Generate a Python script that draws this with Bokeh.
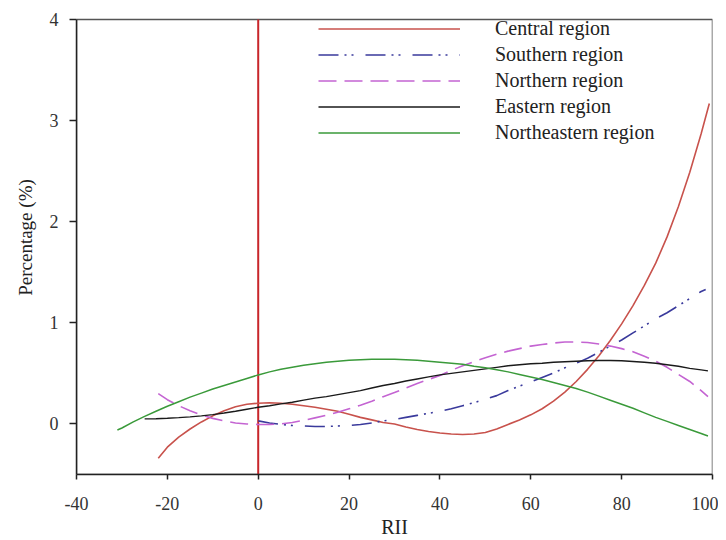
from bokeh.plotting import figure
from bokeh.models import Range1d, FixedTicker, Legend, LegendItem
from bokeh.embed import file_html
from bokeh.resources import INLINE

# ---------------- data ----------------
central_x = [-22, -20, -17.5, -15, -12.5, -10, -7.5, -5, -2.5, 0, 2.5, 5, 7.5, 10, 12.5, 15, 17.5, 20,
             22.5, 25, 27.5, 30, 32.5, 35, 37.5, 40, 42.5, 45, 47.5, 50, 52.5, 55, 57.5, 60, 62.5, 65,
             67.5, 70, 72.5, 75, 77.5, 80, 82.5, 85, 87.5, 90, 92.5, 95, 97.5, 99.3]
central_y = [-0.34, -0.23, -0.13, -0.05, 0.02, 0.08, 0.13, 0.17, 0.195, 0.205, 0.21, 0.205, 0.195, 0.18,
             0.165, 0.145, 0.125, 0.095, 0.065, 0.04, 0.015, 0.0, -0.03, -0.055, -0.075, -0.09, -0.10,
             -0.105, -0.10, -0.085, -0.05, -0.005, 0.04, 0.09, 0.15, 0.225, 0.315, 0.42, 0.54, 0.675,
             0.825, 0.99, 1.17, 1.37, 1.59, 1.85, 2.15, 2.49, 2.87, 3.17]

southern_x = [0, 2.5, 5, 7.5, 10, 12.5, 15, 17.5, 20, 22.5, 25, 27.5, 30, 32.5, 35, 37.5, 40, 42.5, 45,
              47.5, 50, 52.5, 55, 57.5, 60, 62.5, 65, 67.5, 70, 72.5, 75, 77.5, 80, 82.5, 85, 87.5, 90,
              92.5, 95, 97.5, 98.5]
southern_y = [0.03, 0.01, -0.005, -0.015, -0.02, -0.025, -0.025, -0.02, -0.015, -0.005, 0.01, 0.03, 0.045,
              0.065, 0.085, 0.105, 0.125, 0.15, 0.18, 0.21, 0.245, 0.28, 0.33, 0.375, 0.415, 0.46, 0.505,
              0.555, 0.60, 0.65, 0.71, 0.77, 0.83, 0.90, 0.97, 1.04, 1.10, 1.17, 1.24, 1.31, 1.33]

northern_x = [-22, -20, -17.5, -15, -12.5, -10, -7.5, -5, -2.5, 0, 2.5, 5, 7.5, 10, 12.5, 15, 17.5, 20,
              22.5, 25, 27.5, 30, 32.5, 35, 37.5, 40, 42.5, 45, 47.5, 50, 52.5, 55, 57.5, 60, 62.5, 65,
              67.5, 70, 72.5, 75, 77.5, 80, 82.5, 85, 87.5, 90, 92.5, 95, 97.5, 99]
northern_y = [0.30, 0.24, 0.18, 0.13, 0.09, 0.055, 0.03, 0.01, 0.0, -0.005, -0.005, 0.0, 0.015, 0.035,
              0.06, 0.085, 0.115, 0.15, 0.185, 0.225, 0.27, 0.31, 0.355, 0.40, 0.44, 0.48, 0.53, 0.575,
              0.615, 0.655, 0.69, 0.72, 0.745, 0.77, 0.785, 0.80, 0.81, 0.81, 0.805, 0.79, 0.77, 0.745,
              0.715, 0.67, 0.62, 0.56, 0.49, 0.42, 0.33, 0.27]

eastern_x = [-25, -22.5, -20, -17.5, -15, -12.5, -10, -7.5, -5, -2.5, 0, 2.5, 5, 7.5, 10, 12.5, 15, 17.5,
             20, 22.5, 25, 27.5, 30, 32.5, 35, 37.5, 40, 42.5, 45, 47.5, 50, 52.5, 55, 57.5, 60, 62.5, 65,
             67.5, 70, 72.5, 75, 77.5, 80, 82.5, 85, 87.5, 90, 92.5, 95, 97.5, 99]
eastern_y = [0.05, 0.052, 0.056, 0.062, 0.07, 0.08, 0.092, 0.108, 0.125, 0.145, 0.165, 0.18, 0.198, 0.215,
             0.235, 0.255, 0.27, 0.29, 0.31, 0.33, 0.355, 0.38, 0.40, 0.425, 0.445, 0.465, 0.485, 0.50,
             0.515, 0.53, 0.545, 0.56, 0.575, 0.585, 0.595, 0.60, 0.61, 0.615, 0.62, 0.625, 0.627, 0.627,
             0.625, 0.618, 0.61, 0.60, 0.585, 0.57, 0.55, 0.535, 0.525]

northeastern_x = [-31, -30, -27.5, -25, -22.5, -20, -17.5, -15, -12.5, -10, -7.5, -5, -2.5, 0, 2.5, 5,
                  7.5, 10, 12.5, 15, 17.5, 20, 22.5, 25, 27.5, 30, 32.5, 35, 37.5, 40, 42.5, 45, 47.5, 50,
                  52.5, 55, 57.5, 60, 62.5, 65, 67.5, 70, 72.5, 75, 77.5, 80, 82.5, 85, 87.5, 90, 92.5,
                  95, 97.5, 99]
northeastern_y = [-0.06, -0.04, 0.02, 0.075, 0.125, 0.175, 0.22, 0.265, 0.305, 0.345, 0.38, 0.415, 0.45,
                  0.485, 0.515, 0.54, 0.56, 0.58, 0.595, 0.61, 0.62, 0.63, 0.635, 0.64, 0.64, 0.64, 0.635,
                  0.63, 0.62, 0.61, 0.60, 0.59, 0.57, 0.555, 0.535, 0.515, 0.49, 0.465, 0.44, 0.41, 0.38,
                  0.35, 0.315, 0.275, 0.235, 0.195, 0.155, 0.11, 0.065, 0.025, -0.015, -0.055, -0.095,
                  -0.12]

series_names = ["Central region", "Southern region", "Northern region", "Eastern region",
                "Northeastern region"]
x_ticks = [-40, -20, 0, 20, 40, 60, 80, 100]
y_ticks = [0, 1, 2, 3, 4]
x_min, x_max = -40, 100
y_min, y_max = -0.5, 4
reference_x = 0

# ---------------- layout geometry ----------------
W, H = 718, 540
LEFT, RIGHT, TOP, BOTTOM = 76, 6, 19, 66
frame_h = H - BOTTOM                      # frame reaches the canvas top; box drawn at y_max
px_per_unit = (frame_h - TOP) / (y_max - y_min)
y_top = y_max + TOP / px_per_unit

FONT = "Liberation Serif"
p = figure(width=W, height=H, output_backend="svg", toolbar_location=None,
           x_range=Range1d(x_min, x_max), y_range=Range1d(y_min, y_top),
           min_border_left=LEFT, min_border_right=RIGHT, min_border_top=0, min_border_bottom=BOTTOM)
p.background_fill_color = "white"
p.border_fill_color = "white"
p.xgrid.visible = False
p.ygrid.visible = False
p.outline_line_color = None

for ax in (p.xaxis[0], p.yaxis[0]):
    ax.axis_line_color = "#222222"
    ax.axis_line_width = 1.5
    ax.major_tick_line_color = "#222222"
    ax.major_tick_line_width = 1.5
    ax.major_tick_in = 0
    ax.minor_tick_line_color = None
    ax.major_label_text_font = FONT
    ax.major_label_text_font_size = "18px"
    ax.major_label_text_color = "#333333"
    ax.axis_label_text_font = FONT
    ax.axis_label_text_font_style = "normal"
    ax.axis_label_text_color = "#222222"

p.yaxis.bounds = (y_min, y_max)
p.xaxis.ticker = FixedTicker(ticks=x_ticks)
p.yaxis.ticker = FixedTicker(ticks=y_ticks)
p.xaxis.major_label_overrides = {t: str(t) for t in x_ticks}
p.xaxis.major_tick_out = 5
p.yaxis.major_tick_out = 7
p.xaxis.major_label_standoff = 17
p.yaxis.major_label_standoff = 11
p.xaxis.axis_label = "RII"
p.yaxis.axis_label = "Percentage (%)"
p.xaxis.axis_label_text_font_size = "20px"
p.yaxis.axis_label_text_font_size = "19px"
p.xaxis.axis_label_standoff = 3
p.yaxis.axis_label_standoff = 11

# plot box (top / right border) and the red reference line at RII = 0
p.quad(left=[x_min], right=[x_max], bottom=[y_min], top=[y_max],
       fill_color=None, line_color="#555555", line_width=1.5)
p.line([reference_x, reference_x], [y_min, y_max], line_color="#c8262a", line_width=2)

r_c = p.line(central_x, central_y, line_color="#c8524c", line_width=1.6)
r_s = p.line(southern_x, southern_y, line_color="#3a3a9c", line_width=1.6, line_dash="20 6 2 5 2 12")
r_n = p.line(northern_x, northern_y, line_color="#c464d2", line_width=1.6, line_dash="18 8")
r_e = p.line(eastern_x, eastern_y, line_color="#1a1a1a", line_width=1.4)
r_ne = p.line(northeastern_x, northeastern_y, line_color="#3a9a3a", line_width=1.5)

legend = Legend(items=[LegendItem(label=n, renderers=[r]) for n, r in
                       zip(series_names, [r_c, r_s, r_n, r_e, r_ne])],
                location=(242, 330), orientation="vertical",
                glyph_width=142, glyph_height=21, label_height=21, spacing=3,
                label_standoff=35, padding=0, margin=0,
                border_line_color=None, background_fill_alpha=0,
                label_text_font=FONT, label_text_font_size="20px", label_text_color="#222222")
p.add_layout(legend)

open("out.html", "w").write(file_html(p, INLINE))
